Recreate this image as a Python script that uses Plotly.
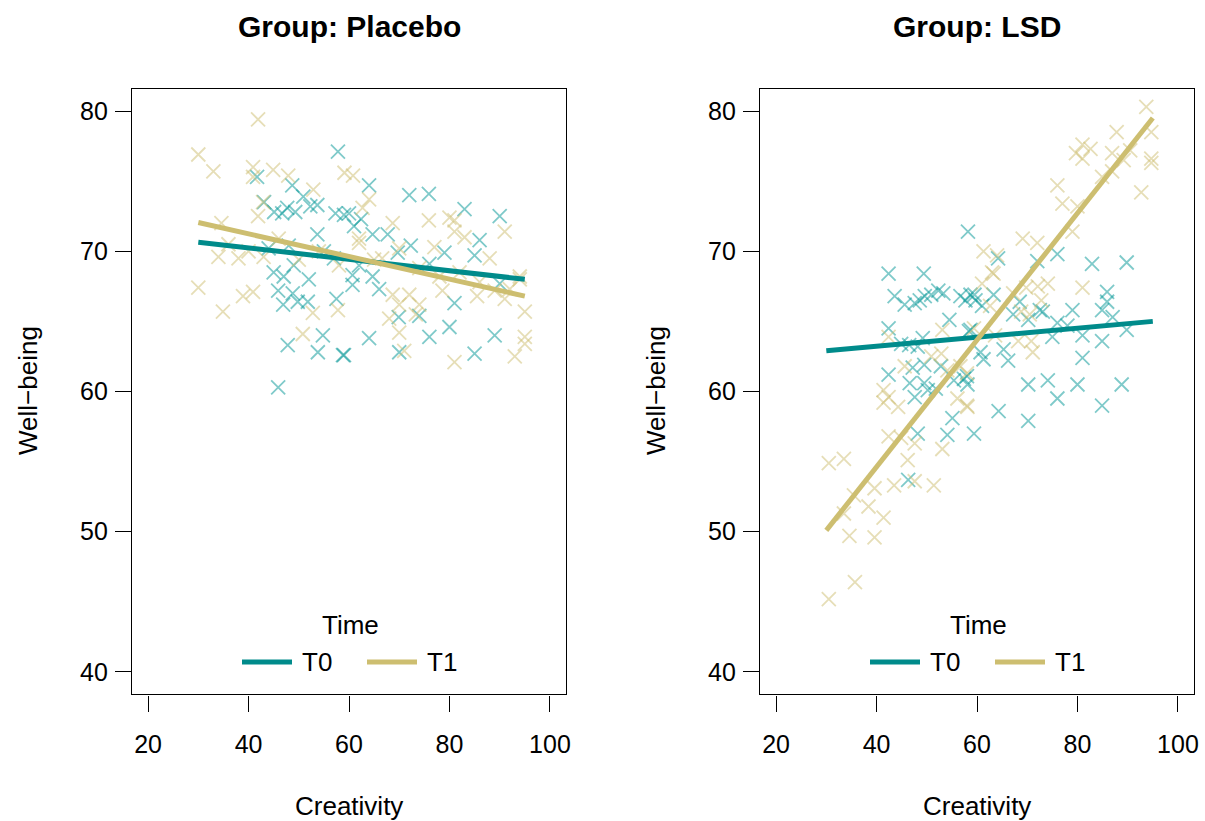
import plotly.graph_objects as go

# ---------------- data ----------------
plc_t0_x = [57.8, 41.7, 48.7, 50.9, 43.1, 47.7, 49.3, 46.7, 45.1, 52.3, 53.7, 57.3, 59.0, 60.0, 53.7,
            64.0, 72.0, 75.9, 83.0, 90.0, 64.7, 67.7, 72.3, 79.0, 86.0, 85.0, 76.0, 69.7, 60.7, 64.7,
            61.0, 62.4, 60.7, 66.0, 81.0, 69.9, 74.0, 64.0, 76.0, 80.0, 89.0, 59.0, 70.0, 85.0, 90.0,
            45.9, 47.8, 54.8, 53.8, 58.8, 46.9, 49.8, 51.8, 57.5, 45.9, 48.8, 45.0, 47.0, 49.0, 52.0,
            55.0, 57.0, 62.0, 44.0, 48.0]
plc_t0_y = [77.1, 75.3, 74.7, 73.9, 73.5, 73.1, 72.8, 72.7, 72.8, 73.2, 73.3, 72.7, 72.6, 72.7, 71.2,
            74.7, 74.0, 74.1, 73.0, 72.5, 71.2, 71.2, 70.4, 69.9, 70.8, 69.7, 69.1, 69.9, 68.3, 68.2,
            71.8, 72.3, 67.6, 67.3, 66.3, 65.3, 65.4, 63.8, 63.9, 64.6, 64.0, 62.6, 62.8, 62.7, 67.7,
            60.3, 63.3, 64.0, 62.8, 62.6, 66.2, 66.4, 66.4, 66.6, 67.2, 67.0, 68.5, 68.2, 69.0, 68.0,
            70.0, 69.5, 69.0, 70.2, 70.4]

plc_t1_x = [41.9, 30.0, 33.0, 40.9, 44.9, 47.9, 40.9, 52.9, 42.9, 41.9, 34.6, 59.1, 34.0, 38.0, 30.0,
            60.8, 64.0, 62.7, 68.7, 75.9, 80.0, 81.0, 91.0, 81.0, 83.0, 88.0, 94.0, 77.0, 62.0, 66.6,
            68.7, 72.0, 70.0, 74.0, 68.0, 73.3, 70.0, 71.0, 81.0, 93.0, 95.0, 95.0, 95.0, 78.6, 85.5,
            91.0, 34.9, 38.9, 40.9, 50.8, 52.8, 57.8, 36.0, 40.0, 43.0, 46.0, 50.0, 54.0, 58.0,
            62.0, 65.0, 70.0, 74.0, 78.0, 82.0, 86.0, 89.0, 92.0, 94.0]
plc_t1_y = [79.4, 76.9, 75.7, 76.0, 75.8, 75.4, 75.3, 74.4, 73.5, 72.5, 72.0, 75.6, 69.6, 69.5, 67.4,
            75.4, 73.7, 73.1, 72.0, 72.2, 72.4, 72.2, 71.4, 71.4, 71.0, 69.5, 68.2, 70.3, 70.9, 69.5,
            66.9, 66.9, 66.2, 66.2, 65.2, 65.5, 64.2, 62.9, 62.1, 62.5, 65.7, 63.9, 63.4, 67.2, 66.8,
            66.6, 65.7, 66.8, 67.1, 64.1, 65.6, 65.8, 70.5, 70.0, 69.6, 70.9, 69.4, 70.0, 69.0,
            70.6, 69.4, 70.2, 68.8, 68.2, 68.5, 67.8, 67.2, 67.3, 68.0]

lsd_t0_x = [58.2, 64.2, 72.0, 76.0, 82.9, 89.8, 42.4, 49.4, 43.6, 45.6, 47.6, 48.6, 49.6, 50.9, 52.3,
            53.3, 56.7, 57.7, 58.7, 59.7, 42.4, 54.5, 58.4, 44.9, 46.5, 49.2, 48.2, 42.4, 47.2, 49.5,
            52.8, 46.6, 49.5, 50.2, 51.8, 47.6, 55.4, 57.4, 58.1, 55.1, 48.2, 54.1, 59.4, 46.3, 85.9,
            85.9, 84.9, 79.0, 87.0, 76.0, 78.0, 72.5, 73.1, 68.5, 67.2, 70.2, 63.3, 61.0, 59.5, 58.7,
            75.0, 81.0, 84.9, 89.8, 65.3, 60.7, 61.3, 66.2, 81.0, 70.2, 74.1, 80.0, 88.8, 76.0, 84.9,
            64.3, 70.2, 58.0]
lsd_t0_y = [71.4, 69.5, 69.3, 69.8, 69.1, 69.2, 68.4, 68.4, 66.8, 66.2, 66.3, 66.5, 66.8, 66.9, 67.2,
            67.0, 66.8, 66.5, 66.9, 66.5, 64.5, 65.1, 64.3, 63.4, 63.3, 63.8, 63.2, 61.2, 61.7, 61.9,
            61.8, 60.6, 60.6, 60.1, 60.2, 59.6, 60.8, 60.9, 60.5, 58.1, 57.0, 56.9, 57.0, 53.7, 67.1,
            66.4, 65.8, 65.8, 65.3, 64.9, 64.7, 65.8, 65.7, 66.4, 65.5, 65.1, 66.9, 66.1, 66.9, 64.4,
            63.9, 64.0, 63.6, 64.4, 63.0, 62.8, 62.3, 62.2, 62.4, 60.5, 60.8, 60.5, 60.5, 59.5, 59.0,
            58.6, 57.9, 61.1]

lsd_t1_x = [93.7, 94.7, 87.8, 81.0, 82.6, 79.7, 81.0, 86.9, 90.5, 94.7, 94.7, 89.2, 84.9, 86.9, 76.0,
            77.0, 80.0, 92.7, 79.0, 69.1, 72.0, 61.3, 64.0, 63.0, 42.4, 41.4, 42.4, 44.3, 41.4, 45.6,
            50.9, 52.9, 53.1, 54.1, 56.7, 42.4, 44.9, 47.6, 53.1, 30.5, 33.5, 46.2, 56.1, 58.1, 59.4,
            39.6, 43.5, 47.6, 51.4, 35.5, 38.4, 33.5, 41.4, 34.6, 39.6, 35.7, 30.5, 63.3, 61.0, 67.2,
            69.8, 72.1, 74.1, 81.0, 72.8, 68.8, 70.5, 62.6, 68.2, 70.8, 71.1, 63.6, 58.0, 58.0]
lsd_t1_y = [80.3, 78.5, 78.5, 77.6, 77.3, 77.0, 76.6, 77.0, 77.2, 76.6, 76.3, 76.5, 75.3, 75.7, 74.7,
            73.4, 73.2, 74.2, 71.4, 70.9, 70.6, 70.0, 69.7, 68.5, 63.9, 60.1, 59.6, 58.9, 59.2, 61.8,
            62.5, 62.7, 64.4, 61.5, 61.8, 56.8, 56.7, 56.3, 55.9, 54.9, 55.2, 55.1, 59.5, 58.9, 64.5,
            53.1, 53.3, 53.6, 53.3, 52.6, 51.8, 51.3, 51.0, 49.7, 49.6, 46.4, 45.2, 68.4, 67.7, 67.0,
            67.4, 67.5, 67.7, 67.4, 66.5, 65.7, 65.5, 66.1, 63.6, 63.6, 62.8, 64.0, 61.3, 59.0]

fit_x = [30, 95]
plc_fit_t0 = [70.65, 68.0]
plc_fit_t1 = [72.05, 66.8]
lsd_fit_t0 = [62.9, 65.0]
lsd_fit_t1 = [50.1, 79.5]

x_ticks = [20, 40, 60, 80, 100]
y_ticks = [40, 50, 60, 70, 80]
panel_titles = ["Group: Placebo", "Group: LSD"]
time_levels = ["T0", "T1"]

# ---------------- style ----------------
W, H = 1205, 821
FONT = "Liberation Sans, Arial, Helvetica, sans-serif"
C_T0 = "#008B8B"
C_T1 = "#CDBE70"
C_T0_PT = "rgba(0,150,150,0.5)"
C_T1_PT = "rgba(205,190,112,0.5)"

def px_x(p):
    return p / W

def px_y(p):
    return 1 - p / H

panels = [
    dict(x0=132, x1=566, t0=(plc_t0_x, plc_t0_y), t1=(plc_t1_x, plc_t1_y),
         f0=plc_fit_t0, f1=plc_fit_t1),
    dict(x0=760, x1=1194, t0=(lsd_t0_x, lsd_t0_y), t1=(lsd_t1_x, lsd_t1_y),
         f0=lsd_fit_t0, f1=lsd_fit_t1),
]
box_top, box_bot = 88.6, 694.4

fig = go.Figure()
annotations = []
shapes = []

def txt(text, x, y, size=26, xanchor="center", angle=0):
    return dict(text=text, x=px_x(x), y=px_y(y), xref="paper", yref="paper",
                showarrow=False, xanchor=xanchor, yanchor="middle", textangle=angle,
                font=dict(family=FONT, size=size, color="black"))

for i, p in enumerate(panels):
    sfx = "" if i == 0 else str(i + 1)
    xa, ya = "x" + sfx, "y" + sfx
    for (xs, ys), col in ((p["t0"], C_T0_PT), (p["t1"], C_T1_PT)):
        fig.add_trace(go.Scatter(
            x=xs, y=ys, mode="markers", xaxis=xa, yaxis=ya, showlegend=False,
            marker=dict(symbol="x-thin", size=14, color=col,
                        line=dict(color=col, width=1.8)),
            hoverinfo="x+y"))
    for fy, col in ((p["f0"], C_T0), (p["f1"], C_T1)):
        fig.add_trace(go.Scatter(
            x=fit_x, y=fy, mode="lines", xaxis=xa, yaxis=ya, showlegend=False,
            line=dict(color=col, width=5)))

    axis_common = dict(showline=True, mirror=True, linecolor="black", linewidth=1.3,
                       showgrid=False, zeroline=False, ticks="outside", ticklen=16,
                       tickwidth=1.3, tickcolor="black", automargin=False,
                       tickfont=dict(family=FONT, size=25, color="black"))
    fig.update_layout(**{
        "xaxis" + sfx: dict(axis_common, domain=[px_x(p["x0"]), px_x(p["x1"])],
                            range=[16.8, 103.2], tickvals=x_ticks, anchor=ya,
                            ticklabelstandoff=11),
        "yaxis" + sfx: dict(axis_common, domain=[px_y(box_bot), px_y(box_top)],
                            range=[38.4, 81.6], tickvals=y_ticks, anchor=xa,
                            ticklabelstandoff=2),
    })

    cx = (p["x0"] + p["x1"]) / 2
    annotations.append(txt("<b>" + panel_titles[i] + "</b>", cx, 26, size=30))
    annotations.append(txt("Creativity", cx, 806))
    annotations.append(txt("Well\u2212being", p["x0"] - 104, 391, angle=-90))
    # legend (Time)
    off = p["x0"] - 132
    annotations.append(txt("Time", 350 + off, 625))
    for j, (lx0, col) in enumerate(((242, C_T0), (367, C_T1))):
        shapes.append(dict(type="line", xref="paper", yref="paper",
                           x0=px_x(lx0 + off), x1=px_x(lx0 + 50 + off),
                           y0=px_y(662), y1=px_y(662),
                           line=dict(color=col, width=5)))
        annotations.append(txt(time_levels[j], lx0 + 58 + off, 662, xanchor="left"))

fig.update_layout(width=W, height=H, margin=dict(l=0, r=0, t=0, b=0),
                  paper_bgcolor="white", plot_bgcolor="white",
                  annotations=annotations, shapes=shapes, showlegend=False,
                  font=dict(family=FONT, color="black"))

fig.write_html("out.html",
               config={"displayModeBar": False},
               post_script="document.body.style.margin='0px';"
                           "document.body.style.overflow='hidden';")
